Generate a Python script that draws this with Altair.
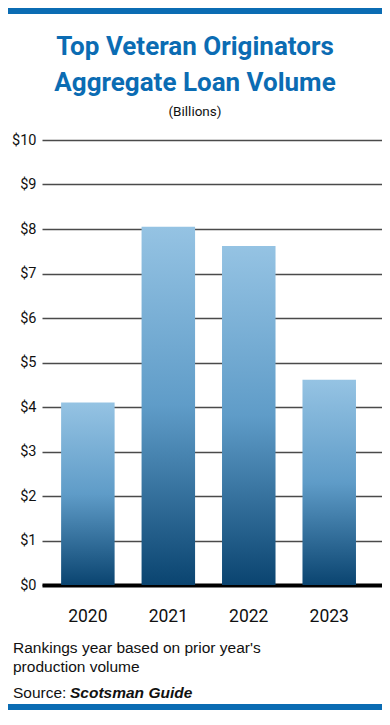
import altair as alt
import pandas as pd

years = ["2020", "2021", "2022", "2023"]
volumes = [4.1, 8.05, 7.62, 4.61]
y_ticks = [0, 1, 2, 3, 4, 5, 6, 7, 8, 9, 10]

title_line1 = "Top Veteran Originators"
title_line2 = "Aggregate Loan Volume"
subtitle = "(Billions)"
note_line1 = "Rankings year based on prior year's"
note_line2 = "production volume"
source_label = "Source:"
source_name = "Scotsman Guide"

df = pd.DataFrame({"year": years, "volume": volumes})

NARROW = "Roboto, 'Liberation Sans', sans-serif"
REG = "'Liberation Sans', Roboto, sans-serif"
BLUE = "#0b6cb3"

W, H = 340, 445

grad = alt.Gradient(
    gradient="linear",
    stops=[
        alt.GradientStop(color="#95c3e3", offset=0),
        alt.GradientStop(color="#5f9cc8", offset=0.5),
        alt.GradientStop(color="#0a4470", offset=1),
    ],
    x1=0, x2=0, y1=0, y2=1,
)

bars = alt.Chart(df).mark_bar(color=grad).encode(
    x=alt.X(
        "year:N",
        sort=years,
        scale=alt.Scale(paddingInner=0.335, paddingOuter=0.2805, align=0.4235),
        axis=alt.Axis(
            title=None, labelAngle=0, ticks=False, tickSize=0,
            labelPadding=22, labelFont=NARROW, labelFontSize=17.5,
            labelColor="#111", domainColor="#000", domainWidth=4,
            grid=False,
        ),
    ),
    y=alt.Y(
        "volume:Q",
        scale=alt.Scale(domain=[0, 10], nice=False),
        axis=alt.Axis(
            title=None, values=y_ticks, labelExpr="'$' + datum.value",
            ticks=False, tickSize=0, domain=False, labelPadding=6,
            labelFont=NARROW, labelFontSize=14.5, labelColor="#111",
            grid=True, gridColor="#4a4a4a", gridWidth=1.3,
        ),
    ),
)

def txt(s, x, y, font, size, color="#111", weight="normal", style="normal", align="left"):
    return alt.Chart(df.head(1)).mark_text(
        text=s, font=font, fontSize=size, color=color, fontWeight=weight,
        fontStyle=style, align=align, baseline="alphabetic",
    ).encode(x=alt.value(x), y=alt.value(y))

t1 = txt(title_line1, 153, -85, NARROW, 26, BLUE, "bold", align="center")
t2 = txt(title_line2, 153, -49, NARROW, 26, BLUE, "bold", align="center")
t3 = txt(subtitle, 153, -24, NARROW, 13.5, "#111", align="center")
n1 = txt(note_line1, -29, 513, REG, 15.5)
n2 = txt(note_line2, -29, 532, REG, 15.5)
s1 = txt(source_label, -29, 558, REG, 15.5)
s2 = txt(source_name, 28, 558, REG, 15.5, "#111", "bold", "italic")

top_bar = alt.Chart(df.head(1)).mark_rule(color=BLUE, strokeWidth=6).encode(
    x=alt.value(-34), x2=alt.value(W), y=alt.value(-129)
)
bottom_bar = alt.Chart(df.head(1)).mark_rule(color=BLUE, strokeWidth=6).encode(
    x=alt.value(-34), x2=alt.value(W), y=alt.value(567)
)

chart = alt.layer(
    bars, t1, t2, t3, n1, n2, s1, s2, top_bar, bottom_bar
).properties(
    width=W, height=H,
    autosize=alt.AutoSizeParams(type="none"),
    padding={"left": 34, "top": 132, "right": 0, "bottom": 126},
    background="white",
).configure_view(stroke=None)

chart.save("out.html", embed_options={"renderer": "svg", "actions": False})
